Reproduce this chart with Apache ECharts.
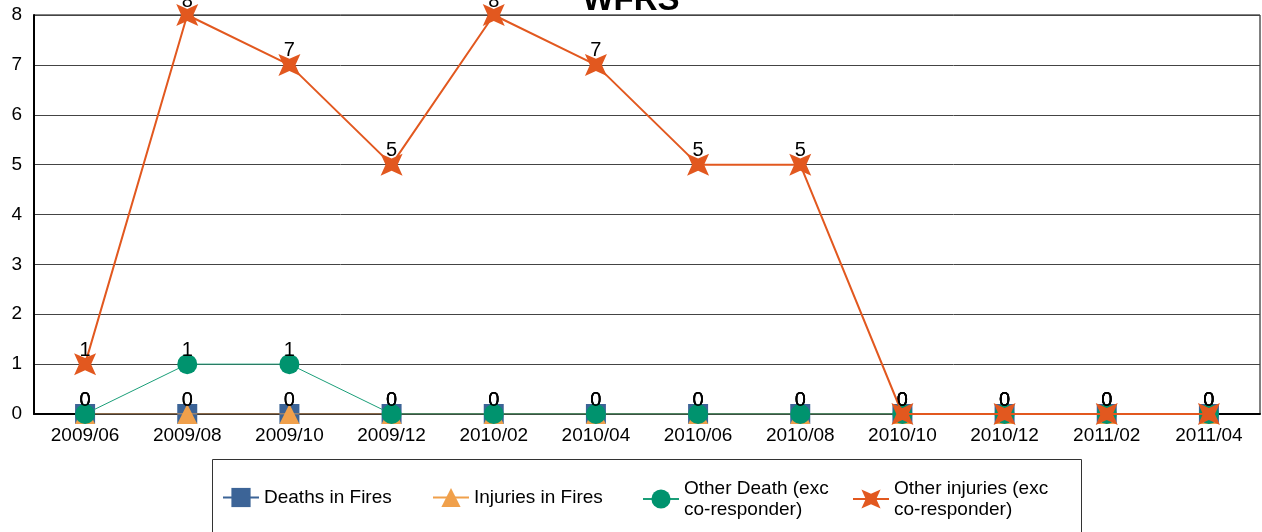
<!DOCTYPE html>
<html>
<head>
<meta charset="utf-8">
<script src="https://cdn.jsdelivr.net/npm/echarts@6/dist/echarts.min.js"></script>
<style>
html,body{margin:0;padding:0;background:#fff;}
#chart{width:1262px;height:532px;}
</style>
</head>
<body>
<div id="chart"></div>
<script>
const categories = ['2009/06','2009/08','2009/10','2009/12','2010/02','2010/04','2010/06','2010/08','2010/10','2010/12','2011/02','2011/04'];
const deathsInFires = [0,0,0,0,0,0,0,0,0,0,0,0];
const injuriesInFires = [0,0,0,0,0,0,0,0,0,0,0,0];
const otherDeath = [0,1,1,0,0,0,0,0,0,0,0,0];
const otherInjuries = [1,8,7,5,8,7,5,5,0,0,0,0];
const yTicks = [0,1,2,3,4,5,6,7,8];
const seriesNames = ['Deaths in Fires','Injuries in Fires','Other Death (exc co-responder)','Other injuries (exc co-responder)'];
const legendLabels = ['Deaths in Fires','Injuries in Fires','Other Death (exc\nco-responder)','Other injuries (exc\nco-responder)'];

const FONT = 'Liberation Sans, Arial, sans-serif';
const starPath = 'path://M0,0 L10,4.5 L20,0 L15.5,10 L20,20 L10,15.5 L0,20 L4.5,10 Z';

const label = {
  show: true, position: 'inside', offset: [0, -14],
  color: '#000', fontSize: 20, fontFamily: FONT
};

const chart = echarts.init(document.getElementById('chart'), null, {renderer: 'canvas'});
const option = {
  animation: false,
  backgroundColor: '#fff',
  title: {
    text: 'WFRS', left: 'center', top: -21,
    textStyle: {fontSize: 33, fontWeight: 'bold', color: '#000', fontFamily: FONT}
  },
  grid: {left: 34, right: 2, top: 15, bottom: 118, show: true, borderColor: '#000', borderWidth: 1, backgroundColor: 'transparent'},
  xAxis: {
    type: 'category', data: categories, boundaryGap: true,
    axisLine: {lineStyle: {color: '#000', width: 2}},
    axisTick: {show: false},
    axisLabel: {color: '#000', fontSize: 19, fontFamily: FONT, margin: 12, interval: 0},
    splitLine: {show: false}
  },
  yAxis: {
    type: 'value', min: yTicks[0], max: yTicks[yTicks.length-1], interval: 1,
    axisLine: {show: true, lineStyle: {color: '#000', width: 2}},
    axisTick: {show: false},
    axisLabel: {color: '#000', fontSize: 19, fontFamily: FONT, margin: 12},
    splitLine: {show: true, lineStyle: {color: '#444', width: 1}}
  },
  legend: [0,1,2,3].map(i => ({
    data: [seriesNames[i]],
    left: 222 + 210 * i,
    top: i < 2 ? 487 : 478,
    padding: 0,
    itemWidth: 36, itemHeight: 24, itemGap: 5,
    formatter: () => legendLabels[i],
    textStyle: {color: '#000', fontSize: 19, fontFamily: FONT, lineHeight: 21}
  })),
  graphic: [{
    type: 'rect', z: -1,
    shape: {x: 212.5, y: 459.5, width: 869, height: 90},
    style: {fill: 'none', stroke: '#333', lineWidth: 1}
  }],
  series: [
    {
      name: seriesNames[0], type: 'line', data: deathsInFires,
      symbol: 'rect', symbolSize: 20,
      itemStyle: {color: '#3C6497'},
      lineStyle: {color: '#3C6497', width: 1},
      label: label, z: 2
    },
    {
      name: seriesNames[1], type: 'line', data: injuriesInFires,
      symbol: 'triangle', symbolSize: 20,
      itemStyle: {color: '#F0A04B'},
      lineStyle: {color: '#F0A04B', width: 1},
      label: label, z: 3
    },
    {
      name: seriesNames[2], type: 'line', data: otherDeath,
      symbol: 'circle', symbolSize: 20,
      itemStyle: {color: '#00936E'},
      lineStyle: {color: '#1A9E78', width: 1},
      label: label, z: 4
    },
    {
      name: seriesNames[3], type: 'line', data: otherInjuries,
      symbol: starPath, symbolSize: 22,
      itemStyle: {color: '#E2581F'},
      lineStyle: {color: '#E2581F', width: 2},
      label: label, z: 5
    }
  ]
};
chart.setOption(option);
</script>
</body>
</html>
